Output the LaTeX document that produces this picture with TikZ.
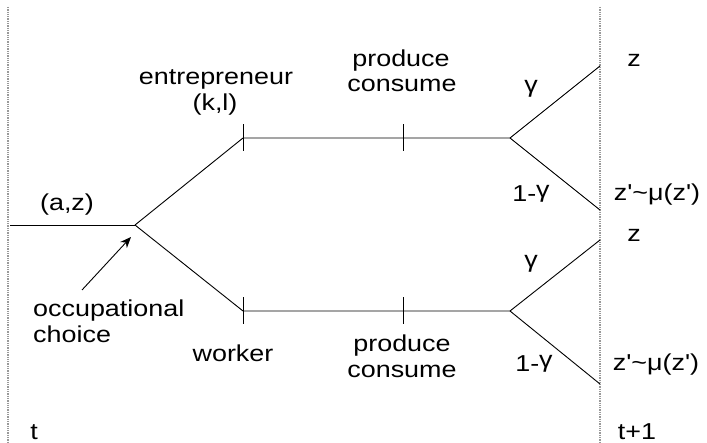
\documentclass[tikz,border=0pt]{standalone}
\usepackage{fontspec}
\newfontfamily\lblfont{Liberation Sans}[FakeStretch=1.17]
\usetikzlibrary{arrows.meta}
\newcommand\gam{\raisebox{0.21em}{γ}}
\tikzset{
  lbl/.style={inner sep=0pt, anchor=base, font=\lblfont\fontsize{23}{27}\selectfont},
  lbll/.style={lbl, anchor=base west},
  edge/.style={draw=black, line width=0.9pt},
  tick/.style={draw=black, line width=0.9pt},
  period/.style={draw=gray!80, densely dotted, line width=1.3pt}
}
\begin{document}
\begin{tikzpicture}[x=1pt,y=-1pt]
\useasboundingbox (0,0) rectangle (707,443);
% period boundaries
\coordinate (Lt) at (8,7); \coordinate (Lb) at (8,443);
\coordinate (Rt) at (600,7); \coordinate (Rb) at (600,443);
\draw[period] (Lt) -- (Lb);
\draw[period] (Rt) -- (Rb);
% tree points
\coordinate (s) at (10,225);
\coordinate (c) at (135,225);
\coordinate (e1) at (243,138);
\coordinate (e2) at (403,138);
\coordinate (e3) at (510,138);
\coordinate (w1) at (243,311);
\coordinate (w2) at (403,311);
\coordinate (w3) at (510,311);
\coordinate (ez) at (600,66);
\coordinate (ezp) at (600,210);
\coordinate (wz) at (600,240);
\coordinate (wzp) at (600,384);
\draw[edge] (s) -- (c);
\draw[edge] (c) -- (e1) -- (e2) -- (e3);
\draw[edge] (c) -- (w1) -- (w2) -- (w3);
\draw[edge] (e3) -- (ez);
\draw[edge] (e3) -- (ezp);
\draw[edge] (w3) -- (wz);
\draw[edge] (w3) -- (wzp);
% ticks
\foreach \p in {e1,e2,w1,w2}{
  \draw[tick] ([yshift=-13]\p) -- ([yshift=14]\p);
}
% arrow
\coordinate (arrs) at (82,290);
\coordinate (arre) at (131,237);
\draw[edge, -{Stealth[length=11pt,width=9pt]}] (arrs) -- (arre);
% labels
\node[lbl] (az) at (67,211) {(a,z)};
\node[lbl] (ent) at (216,85) {entrepreneur};
\node[lbl] (kl) at (215,111) {(k,l)};
\node[lbl] (prod1) at (401,67) {produce};
\node[lbl] (cons1) at (402,92) {consume};
\node[lbl] (g1) at (531,97) {\gam};
\node[lbl] (og1) at (531,202) {1-\gam};
\node[lbl] (z1) at (634,67) {z};
\node[lbl] (zp1) at (657,201) {z'\char"007E μ(z')};
\node[lbl] (z2) at (634,242) {z};
\node[lbl] (g2) at (531,272) {\gam};
\node[lbl] (og2) at (534,372) {1-\gam};
\node[lbl] (zp2) at (656,371) {z'\char"007E μ(z')};
\node[lbll] (occ) at (33,317) {occupational};
\node[lbll] (cho) at (33,343) {choice};
\node[lbl] (wk) at (233,362) {worker};
\node[lbl] (prod2) at (402,352) {produce};
\node[lbl] (cons2) at (402,378) {consume};
\node[lbl] (t) at (34,439) {t};
\node[lbl] (t1) at (637,439) {t+1};
\end{tikzpicture}
\end{document}
